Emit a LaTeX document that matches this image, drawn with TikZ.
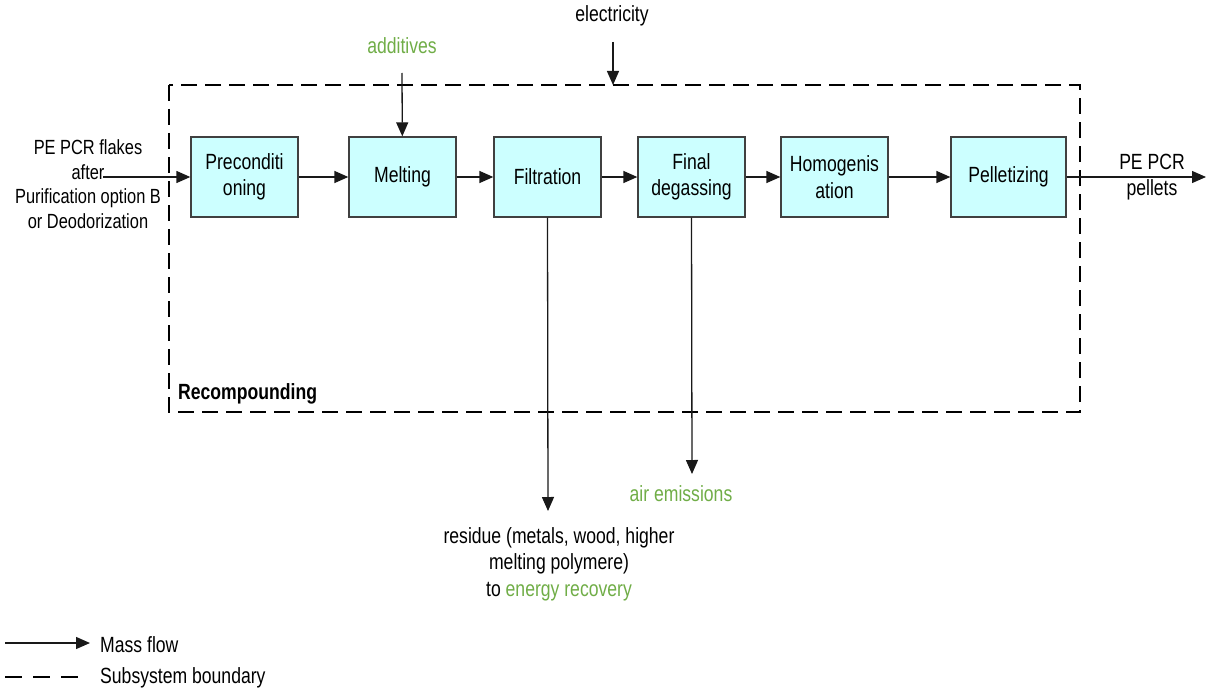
\documentclass[tikz,border=0pt]{standalone}
\usepackage{fontspec}
\setmainfont{Liberation Sans}[FakeStretch=0.8]
\usetikzlibrary{arrows.meta}
\definecolor{boxfill}{HTML}{CCFFFF}
\definecolor{greentext}{HTML}{70AD47}
\definecolor{boxline}{HTML}{404040}
\tikzset{
  stepbox/.style={draw=boxline, line width=1.3pt, fill=boxfill, minimum width=107pt, minimum height=80pt, align=center, inner sep=2pt},
  flow/.style={draw=black!90, line width=1.3pt, -{Triangle[length=14pt,width=12pt]}},
  boundary/.style={draw=black, line width=2.2pt, dash pattern=on 16pt off 8pt},
  lbl/.style={align=center, inner sep=0pt},
}
\begin{document}
\begin{tikzpicture}[x=1pt, y=-1pt, font=\fontsize{22}{26.5}\selectfont]
\useasboundingbox (0,0) rectangle (1207,690);
% boundary
\draw[boundary] (169,85) rectangle (1080,412);
\node[anchor=south west, inner sep=0pt, font=\fontsize{22}{26}\selectfont\bfseries] (recomp) at (178,404) {Recompounding};
% process boxes
\node[stepbox] (pre) at (244.5,177) {Preconditi\\oning};
\node[stepbox] (melt) at (402.5,177) {Melting};
\node[stepbox] (filt) at (547.5,177) {Filtration};
\node[stepbox] (degas) at (691.5,177) {Final\\degassing};
\node[stepbox] (homo) at (834.5,177) {Homogenis\\ation};
\node[stepbox, minimum width=115pt] (pell) at (1008.5,177) {Pelletizing};
% labels
\node[lbl, font=\fontsize{20.5}{24.5}\selectfont] (input) at (88,184) {PE PCR flakes\\after\\Purification option B\\or Deodorization};
\coordinate (instart) at (103,177);
\node[lbl] (output) at (1152,177) {PE PCR\\pellets};
\coordinate (outend) at (1206,177);
\node[lbl] (elec) at (612,16) {electricity};
\coordinate (elecstart) at (613,42);
\coordinate (elecend) at (613,85);
\node[lbl, text=greentext] (add) at (402,46) {additives};
\coordinate (addstart) at (402,73);
\node[lbl] (resid) at (559,564) {residue (metals, wood, higher\\melting polymere)\\to \textcolor{greentext}{energy recovery}};
\coordinate (residend) at (548,511);
\node[lbl, text=greentext] (air) at (681,494) {air emissions};
\coordinate (airend) at (692,474);
% flows
\draw[flow] (instart) -- (pre);
\draw[flow] (pre) -- (melt);
\draw[flow] (melt) -- (filt);
\draw[flow] (filt) -- (degas);
\draw[flow] (degas) -- (homo);
\draw[flow] (homo) -- (pell);
\draw[flow] (pell) -- (outend);
\draw[flow] (elecstart) -- (elecend);
\draw[flow] (addstart) -- (melt);
\draw[flow] (filt.south) -- (residend);
\draw[flow] (degas.south) -- (airend);
% legend
\coordinate (l1a) at (5,643);
\coordinate (l1b) at (90,643);
\draw[flow] (l1a) -- (l1b);
\node[anchor=west, inner sep=0pt] (lmass) at (100,645) {Mass flow};
\coordinate (l2a) at (5,677);
\coordinate (l2b) at (78,677);
\draw[draw=black, line width=2pt, dash pattern=on 17pt off 11pt] (l2a) -- (l2b);
\node[anchor=west, inner sep=0pt] (lsub) at (100,678) {Subsystem boundary};
\end{tikzpicture}
\end{document}
